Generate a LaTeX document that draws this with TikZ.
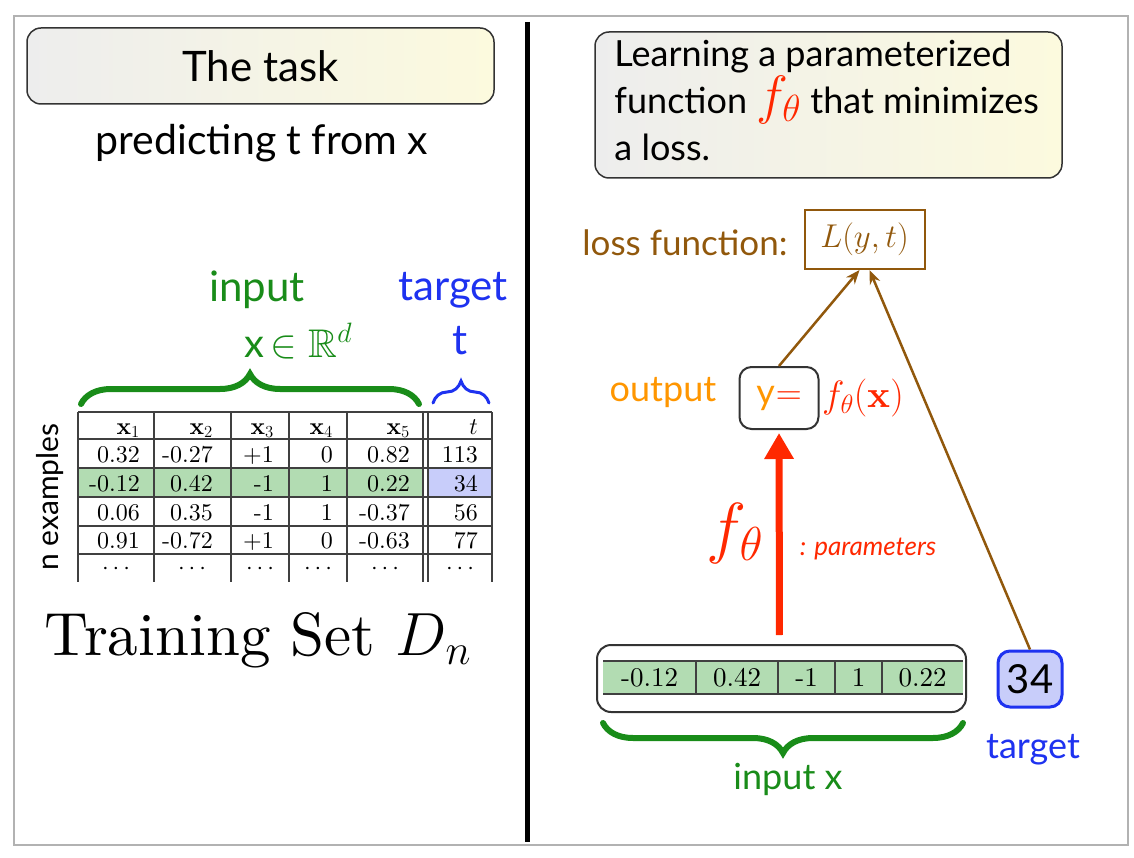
\RequirePackage{fix-cm}
\documentclass[tikz,border=0pt]{standalone}
\usepackage{amssymb}
\usepackage{fontspec}
\setmainfont{lmroman10-regular.otf}[BoldFont=lmroman10-bold.otf,ItalicFont=lmroman10-italic.otf]
\setsansfont{Lato}
\usetikzlibrary{arrows.meta,decorations.pathreplacing}
\definecolor{myGreen}{RGB}{25,140,25}
\definecolor{myBlue}{RGB}{30,50,240}
\definecolor{myOrange}{RGB}{255,150,0}
\definecolor{myRed}{RGB}{255,40,0}
\definecolor{myBrown}{RGB}{145,88,12}
\definecolor{rowGreen}{RGB}{178,220,178}
\definecolor{cellBlue}{RGB}{200,205,250}
\definecolor{boxCream}{RGB}{252,250,222}
\newcommand\sfsize[1]{\sffamily\fontsize{#1}{#1}\selectfont}
\newcommand\tabrow[8]{%
  \node[cell] (t#1a) at (140,#2) {#3};
  \node[cell] (t#1b) at (213,#2) {#4};
  \node[cell] (t#1c) at (274,#2) {#5};
  \node[cell] (t#1d) at (333,#2) {#6};
  \node[cell] (t#1e) at (410,#2) {#7};
  \node[cell] (t#1f) at (478,#2) {#8};}
\begin{document}
\begin{tikzpicture}[x=1pt,y=-1pt,
  titlebox/.style={draw=black!80, line width=1.5, rounded corners=14, left color=gray!14, right color=boxCream},
  cell/.style={anchor=base east, inner sep=0, font=\fontsize{24}{28}\selectfont},
  dcell/.style={anchor=base, inner sep=0, font=\fontsize{24}{28}\selectfont},
  vcell/.style={inner sep=0, font=\fontsize{27}{30}\selectfont},
  brownarrow/.style={myBrown, line width=2.5, -{Stealth[length=14,width=11]}},
  tline/.style={black!75, line width=1.3}]
\useasboundingbox (0,0) rectangle (1134,858);
% frame and divider
\draw[gray!60, line width=2] (14,16) rectangle (1128,845);
\draw[line width=5] (527,22) -- (527,842);
% ---------- left panel ----------
\node[titlebox, minimum width=467, minimum height=76, font=\sfsize{42}] (task) at (260.5,66) {The task};
\node[font=\sfsize{41}] (pred) at (262,143) {predicting t from x};
\node[myGreen, font=\sfsize{42}] (inlab) at (257,290) {input};
\node[myGreen, font=\sfsize{40}] (inx) at (298,341) {x$\,\in\mathbb{R}^d$};
\node[myBlue, font=\sfsize{42}] (tglab) at (453,290) {target};
\node[myBlue, font=\sfsize{42}] (tgt) at (460,341) {t};
\draw[myGreen, line width=6, line cap=round, decorate, decoration={brace, amplitude=30}] (81,404) -- (419,404);
\draw[myBlue, line width=3, line cap=round, decorate, decoration={brace, amplitude=22}] (433,403) -- (489,403);
\node[rotate=90, font=\sfsize{30}] (nex) at (50,497) {n examples};
% table
\fill[rowGreen] (78,468) rectangle (423,497);
\fill[cellBlue] (428,468) rectangle (492,497);
\foreach \yy in {412,439,468,497,526,554} \draw[tline] (78,\yy) -- (492,\yy);
\foreach \xx in {78,154,231,289,347,423,428,492} \draw[tline] (\xx,412) -- (\xx,582);
\tabrow{h}{434}{$\mathbf{x}_1$}{$\mathbf{x}_2$}{$\mathbf{x}_3$}{$\mathbf{x}_4$}{$\mathbf{x}_5$}{$t$}
\tabrow{a}{462}{0.32}{-0.27}{+1}{0}{0.82}{113}
\tabrow{b}{491}{-0.12}{0.42}{-1}{1}{0.22}{34}
\tabrow{c}{520}{0.06}{0.35}{-1}{1}{-0.37}{56}
\tabrow{d}{548}{0.91}{-0.72}{+1}{0}{-0.63}{77}
\foreach \xx [count=\i] in {116,192,260,318,385,460} \node[dcell] (dots\i) at (\xx,574) {\smash{$\cdots$}};
\node[font=\fontsize{61}{72}\selectfont] (train) at (258,640) {Training Set $D_n$};
% ---------- right panel ----------
\node[titlebox, minimum width=467, minimum height=146] (learn) at (828.5,105) {};
\node[anchor=west, inner sep=0, align=left, font=\sffamily\fontsize{36}{47}\selectfont] (learntxt) at ([xshift=20,yshift=5]learn.west) {Learning a parameterized\\function {\color{myRed}\fontsize{54}{47}\selectfont$f_\theta$} that minimizes\\a loss.};
\node[myBrown, font=\sfsize{35}] (lossl) at (685,243) {loss function:};
\node[draw=myBrown, line width=2, minimum width=120, minimum height=59, inner sep=0, font=\fontsize{33}{33}\selectfont, text=myBrown] (L) at (864.5,239.5) {$L(y,t)$};
\node[myOrange, font=\sfsize{36}] (outl) at (663,393) {output};
\node[draw=black!80, line width=2, rounded corners=12, minimum width=79, minimum height=62, inner sep=0, font=\sfsize{36}] (out) at (779,398) {\color{myOrange}y\hspace{1pt}\color{myRed}$=$};
\node[anchor=west, inner sep=0, text=myRed, font=\fontsize{38}{38}\selectfont] (fx) at (822,398) {$f_\theta(\mathbf{x})$};
\node[text=myRed, font=\fontsize{68}{68}\selectfont] (fth) at (735,533) {$f_\theta$};
\node[text=myRed, font=\sffamily\itshape\fontsize{26}{26}\selectfont] (params) at (868,549) {: parameters};
% input vector
\node[draw=black!80, line width=2, rounded corners=14, minimum width=369, minimum height=67] (vec) at (781.5,678.5) {};
\fill[rowGreen] (603,661) rectangle (963,694);
\draw[tline] (603,661) -- (963,661) (603,694) -- (963,694);
\foreach \xx in {696,778,835,882} \draw[tline] (\xx,661) -- (\xx,694);
\node[vcell] (v1) at (649.5,677.5) {-0.12};
\node[vcell] (v2) at (737,677.5) {0.42};
\node[vcell] (v3) at (806.5,677.5) {-1};
\node[vcell] (v4) at (858.5,677.5) {1};
\node[vcell] (v5) at (922.5,677.5) {0.22};
\draw[myGreen, line width=6, line cap=round, decorate, decoration={brace, amplitude=30}] (963,723) -- (603,723);
\node[myGreen, font=\sfsize{36}] (inputx) at (788,779) {input x};
\node[draw=myBlue, fill=cellBlue, line width=3, rounded corners=12, minimum width=64, minimum height=56, inner sep=0, font=\sfsize{40}] (tbox) at (1030,679) {34};
\node[myBlue, font=\sfsize{36}] (tlab) at (1033,750) {target};
% arrows
\draw[brownarrow] (out.north) -- ([xshift=-5]L.south);
\draw[brownarrow] (tbox.north) -- ([xshift=5]L.south);
\draw[myRed, line width=7, shorten <=9, shorten >=3, -{Triangle[length=26,width=28]}] ([xshift=-2]vec.north) -- (out.south);
\end{tikzpicture}
\end{document}
